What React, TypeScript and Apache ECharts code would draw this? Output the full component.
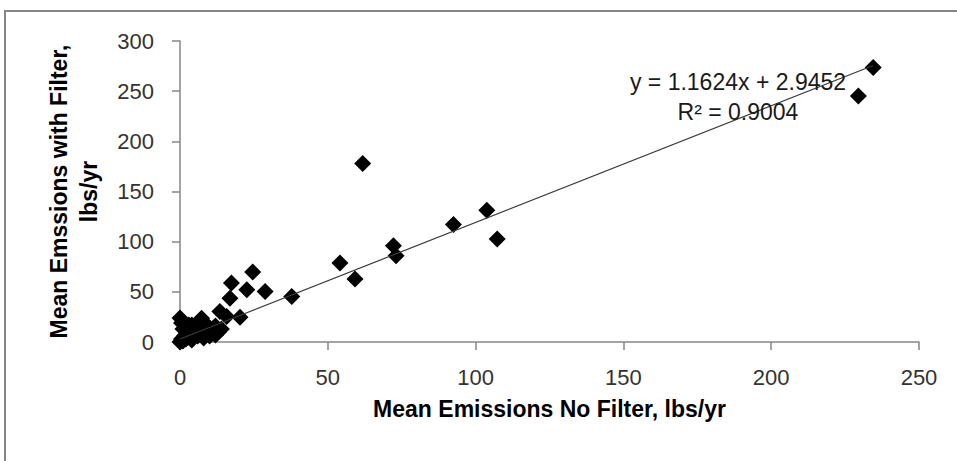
import React, { useEffect, useRef } from "react";
import * as echarts from "echarts";

// Mean emissions without filter (x) and with filter (y), lbs/yr
const noFilter: number[] = [
  234.5, 229.5, 61.8, 103.8, 107.3, 92.5, 72.2, 73.1, 54.1, 59.2,
  37.8, 28.8, 24.6, 22.6, 17.4, 16.9, 13.5, 20.3, 15.8, 7.3,
  0, 11.3, 5.6,
  0, 0.5, 1, 1.5, 2, 2.5, 3, 3.5, 4, 4.5, 5, 6, 6.5, 7, 8, 9, 10, 11, 12, 14, 3, 1,
  2, 4, 6, 9, 12, 13, 8, 10, 0.5,
];
const withFilter: number[] = [
  273.7, 245.3, 178, 131.3, 102.7, 117, 96, 86, 78.7, 62.7,
  45.3, 50.3, 69.7, 52, 58.7, 43.7, 30.3, 24.7, 25.3, 23.7,
  24, 13.7, 15.3,
  0, 3, 1, 6, 3, 9, 5, 12, 2, 8, 11, 6, 13, 9, 12, 8, 14, 11, 16, 13, 17, 13,
  15, 17, 18, 17, 7, 10, 4, 6, 19,
];

const slope = 1.1624;
const intercept = 2.9452;
const equationText = "y = 1.1624x + 2.9452";
const r2Text = "R\u00B2 = 0.9004";

const xAxisTitle = "Mean Emissions No Filter, lbs/yr";
const yAxisTitle = "Mean Emssions with Filter,\nlbs/yr";

export default function App() {
  const ref = useRef<HTMLDivElement>(null);
  useEffect(() => {
    if (!ref.current) return;
    const chart = echarts.init(ref.current, null, { renderer: "svg" });
    const points = noFilter.map((x, i) => [x, withFilter[i]]);
    const xMin = Math.min(...noFilter);
    const xMax = Math.max(...noFilter);
    const trend = [
      [xMin, slope * xMin + intercept],
      [xMax, slope * xMax + intercept],
    ];
    const font = "'Liberation Sans', Arial, sans-serif";
    chart.setOption({
      animation: false,
      backgroundColor: "#ffffff",
      textStyle: { fontFamily: font },
      grid: { left: 180, right: 38, top: 41, bottom: 119, outerBoundsMode: "none", containLabel: false },
      xAxis: {
        type: "value",
        min: 0,
        max: 250,
        interval: 50,
        name: xAxisTitle,
        nameLocation: "middle",
        nameGap: 55,
        nameTextStyle: { fontFamily: font, fontSize: 23, fontWeight: "bold", color: "#000" },
        axisLine: { show: true, lineStyle: { color: "#868686", width: 1.5 } },
        axisTick: { show: true, length: 8, lineStyle: { color: "#868686", width: 1.5 } },
        axisLabel: { fontFamily: font, fontSize: 22, color: "#333", margin: 24 },
        splitLine: { show: false },
      },
      yAxis: {
        type: "value",
        min: 0,
        max: 300,
        interval: 50,
        name: yAxisTitle,
        nameLocation: "middle",
        nameGap: 76,
        nameRotate: 90,
        nameTextStyle: { fontFamily: font, fontSize: 23, fontWeight: "bold", color: "#000", lineHeight: 30, align: "center" },
        axisLine: { show: true, lineStyle: { color: "#868686", width: 1.5 } },
        axisTick: { show: true, length: 8, lineStyle: { color: "#868686", width: 1.5 } },
        axisLabel: { fontFamily: font, fontSize: 22, color: "#333", margin: 26 },
        splitLine: { show: false },
      },
      graphic: [
        {
          type: "rect",
          shape: { x: 5, y: 11, width: 1200, height: 700 },
          style: { fill: "none", stroke: "#868686", lineWidth: 2 },
          silent: true,
          z: 0,
        },
        {
          type: "text",
          x: 738,
          y: 82,
          style: { text: equationText, fontFamily: font, fontSize: 23, fill: "#1a1a1a", textAlign: "center", textVerticalAlign: "middle" },
          z: 10,
        },
        {
          type: "text",
          x: 738,
          y: 112,
          style: { text: r2Text, fontFamily: font, fontSize: 23, fill: "#1a1a1a", textAlign: "center", textVerticalAlign: "middle" },
          z: 10,
        },
      ],
      series: [
        {
          type: "scatter",
          data: points,
          symbol: "diamond",
          symbolSize: 17,
          itemStyle: { color: "#000000", opacity: 1 },
          z: 3,
        },
        {
          type: "line",
          data: trend,
          showSymbol: false,
          symbol: "none",
          lineStyle: { color: "#3a3a3a", width: 1.2 },
          z: 4,
          silent: true,
        },
      ],
    });
    return () => chart.dispose();
  }, []);
  return (
    <div
      ref={ref}
      style={{ position: "fixed", left: 0, top: 0, width: 957, height: 461, background: "#fff" }}
    />
  );
}
